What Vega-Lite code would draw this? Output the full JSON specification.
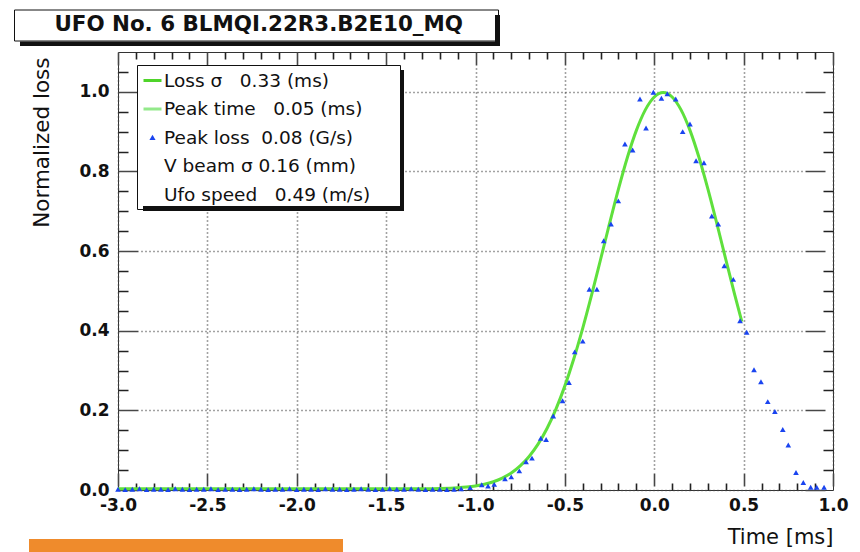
{
  "$schema": "https://vega.github.io/schema/vega-lite/v6.json",
  "width": 715,
  "height": 438,
  "autosize": {"type": "none"},
  "padding": {"left": 118, "top": 52, "right": 27, "bottom": 62},
  "background": "white",
  "config": {
    "view": {"stroke": "#333", "strokeWidth": 1},
    "axis": {
      "labelFont": "DejaVu Sans",
      "labelFontWeight": "bold",
      "labelFontSize": 17,
      "labelColor": "#111",
      "titleFont": "DejaVu Sans",
      "titleFontWeight": "normal",
      "titleColor": "#111",
      "domain": false,
      "ticks": false,
      "labelFlush": false,
      "labelOverlap": false,
      "labelBound": false
    },
    "legend": {"labelFont": "DejaVu Sans", "labelColor": "#111"}
  },
  "datasets": {
    "curve": [
      {"t": -3.0, "fit": 0.003}, {"t": -2.5, "fit": 0.003}, {"t": -2.0, "fit": 0.003},
      {"t": -1.5, "fit": 0.003}, {"t": -1.3, "fit": 0.0033}, {"t": -1.2, "fit": 0.0039},
      {"t": -1.1, "fit": 0.0057}, {"t": -1.05, "fit": 0.0075}, {"t": -1.0, "fit": 0.0103},
      {"t": -0.95, "fit": 0.0145}, {"t": -0.9, "fit": 0.0208}, {"t": -0.85, "fit": 0.030},
      {"t": -0.8, "fit": 0.0428}, {"t": -0.75, "fit": 0.0605}, {"t": -0.7, "fit": 0.0842},
      {"t": -0.65, "fit": 0.1151}, {"t": -0.6, "fit": 0.1544}, {"t": -0.55, "fit": 0.2031},
      {"t": -0.5, "fit": 0.2615}, {"t": -0.45, "fit": 0.3297}, {"t": -0.4, "fit": 0.4067},
      {"t": -0.35, "fit": 0.4907}, {"t": -0.3, "fit": 0.5795}, {"t": -0.25, "fit": 0.6694},
      {"t": -0.2, "fit": 0.7561}, {"t": -0.15, "fit": 0.8356}, {"t": -0.1, "fit": 0.9031},
      {"t": -0.05, "fit": 0.9546}, {"t": 0.0, "fit": 0.987}, {"t": 0.05, "fit": 0.998},
      {"t": 0.1, "fit": 0.987}, {"t": 0.15, "fit": 0.9546}, {"t": 0.2, "fit": 0.9031},
      {"t": 0.25, "fit": 0.8356}, {"t": 0.3, "fit": 0.7561}, {"t": 0.35, "fit": 0.6694},
      {"t": 0.4, "fit": 0.5795}, {"t": 0.45, "fit": 0.4907}, {"t": 0.49, "fit": 0.423}
    ],
    "samples": [
      {"t": -3.00, "loss": 0.002}, {"t": -2.96, "loss": 0.001}, {"t": -2.92, "loss": 0.002},
      {"t": -2.88, "loss": 0.003}, {"t": -2.84, "loss": 0.001}, {"t": -2.80, "loss": 0.002},
      {"t": -2.76, "loss": 0.002}, {"t": -2.72, "loss": 0.001}, {"t": -2.68, "loss": 0.003},
      {"t": -2.64, "loss": 0.002}, {"t": -2.60, "loss": 0.001}, {"t": -2.56, "loss": 0.002},
      {"t": -2.52, "loss": 0.002}, {"t": -2.48, "loss": 0.003}, {"t": -2.44, "loss": 0.001},
      {"t": -2.40, "loss": 0.002}, {"t": -2.36, "loss": 0.002}, {"t": -2.32, "loss": 0.001},
      {"t": -2.28, "loss": 0.002}, {"t": -2.24, "loss": 0.003}, {"t": -2.20, "loss": 0.002},
      {"t": -2.16, "loss": 0.001}, {"t": -2.12, "loss": 0.002}, {"t": -2.08, "loss": 0.002},
      {"t": -2.04, "loss": 0.003}, {"t": -2.00, "loss": 0.001}, {"t": -1.96, "loss": 0.002},
      {"t": -1.92, "loss": 0.002}, {"t": -1.88, "loss": 0.001}, {"t": -1.84, "loss": 0.003},
      {"t": -1.80, "loss": 0.002}, {"t": -1.76, "loss": 0.002}, {"t": -1.72, "loss": 0.001},
      {"t": -1.68, "loss": 0.002}, {"t": -1.64, "loss": 0.003}, {"t": -1.60, "loss": 0.002},
      {"t": -1.56, "loss": 0.001}, {"t": -1.52, "loss": 0.002}, {"t": -1.48, "loss": 0.003},
      {"t": -1.44, "loss": 0.002}, {"t": -1.40, "loss": 0.002}, {"t": -1.36, "loss": 0.003},
      {"t": -1.32, "loss": 0.002}, {"t": -1.28, "loss": 0.001}, {"t": -1.24, "loss": 0.002},
      {"t": -1.20, "loss": 0.002}, {"t": -1.16, "loss": 0.001}, {"t": -1.12, "loss": 0.002},
      {"t": -1.08, "loss": 0.003}, {"t": -1.03, "loss": 0.006}, {"t": -0.965, "loss": 0.013},
      {"t": -0.93, "loss": 0.010}, {"t": -0.895, "loss": 0.014}, {"t": -0.835, "loss": 0.028},
      {"t": -0.80, "loss": 0.033}, {"t": -0.755, "loss": 0.048}, {"t": -0.717, "loss": 0.071},
      {"t": -0.684, "loss": 0.080}, {"t": -0.635, "loss": 0.130}, {"t": -0.605, "loss": 0.127},
      {"t": -0.565, "loss": 0.186}, {"t": -0.513, "loss": 0.224}, {"t": -0.477, "loss": 0.270},
      {"t": -0.445, "loss": 0.347}, {"t": -0.40, "loss": 0.374}, {"t": -0.363, "loss": 0.504},
      {"t": -0.321, "loss": 0.504}, {"t": -0.283, "loss": 0.626}, {"t": -0.242, "loss": 0.668},
      {"t": -0.201, "loss": 0.726}, {"t": -0.164, "loss": 0.869}, {"t": -0.121, "loss": 0.854},
      {"t": -0.080, "loss": 0.982}, {"t": -0.046, "loss": 0.909}, {"t": -0.005, "loss": 0.999},
      {"t": 0.040, "loss": 0.984}, {"t": 0.073, "loss": 0.995}, {"t": 0.120, "loss": 0.982},
      {"t": 0.159, "loss": 0.900}, {"t": 0.200, "loss": 0.919}, {"t": 0.234, "loss": 0.827},
      {"t": 0.278, "loss": 0.822}, {"t": 0.322, "loss": 0.688}, {"t": 0.358, "loss": 0.668},
      {"t": 0.392, "loss": 0.563}, {"t": 0.442, "loss": 0.529}, {"t": 0.480, "loss": 0.425},
      {"t": 0.517, "loss": 0.396}, {"t": 0.558, "loss": 0.302}, {"t": 0.597, "loss": 0.272},
      {"t": 0.635, "loss": 0.222}, {"t": 0.675, "loss": 0.197}, {"t": 0.719, "loss": 0.152},
      {"t": 0.750, "loss": 0.113}, {"t": 0.793, "loss": 0.044}, {"t": 0.834, "loss": 0.019},
      {"t": 0.875, "loss": 0.007}, {"t": 0.909, "loss": 0.007}, {"t": 0.950, "loss": 0.007}
    ],
    "stats": [
      {"entry": "Loss σ\u00a0\u00a0\u00a00.33 (ms)"},
      {"entry": "Peak time\u00a0\u00a0\u00a00.05 (ms)"},
      {"entry": "Peak loss\u00a0\u00a00.08 (G/s)"},
      {"entry": "V beam σ\u00a00.16 (mm)"},
      {"entry": "Ufo speed\u00a0\u00a0\u00a00.49 (m/s)"}
    ],
    "heading": [{"label": "UFO No. 6 BLMQI.22R3.B2E10_MQ"}],
    "decor": [{"part": "shadow"}],
    "band": [{"part": "strip"}]
  },
  "layer": [
    {
      "data": {"name": "curve"},
      "mark": {"type": "line", "color": "#5fe03c", "strokeWidth": 3, "interpolate": "monotone"},
      "encoding": {
        "x": {
          "field": "t", "type": "quantitative",
          "scale": {"domain": [-3, 1], "nice": false, "zero": false},
          "axis": {
            "orient": "bottom", "title": null, "labels": false,
            "values": [-3,-2.9,-2.8,-2.7,-2.6,-2.5,-2.4,-2.3,-2.2,-2.1,-2,-1.9,-1.8,-1.7,-1.6,-1.5,-1.4,-1.3,-1.2,-1.1,-1,-0.9,-0.8,-0.7,-0.6,-0.5,-0.4,-0.3,-0.2,-0.1,0,0.1,0.2,0.3,0.4,0.5,0.6,0.7,0.8,0.9,1],
            "grid": true,
            "gridDash": {"condition": {"test": "abs(round(datum.value*10)%5)==0", "value": [13,3,1,3,1,3,1,3,1,3,1,3,1,3,1,3,1,3,1,3,1,3,1,3,1,3,1,3,1,3,1,3,1,3,1,3,1,3,1,3,1,3,1,3,1,3,1,3,1,3,1,3,1,3,1,3,1,3,1,3,1,3,1,3,1,3,1,3,1,3,1,3,1,3,1,3,1,3,1,3,1,3,1,3,1,3,1,3,1,3,1,3,1,3,1,3,1,3,1,3,1,3,1,3,1,3,1,3,1,3,1,3,1,3,1,3,1,3,1,3,1,3,1,3,1,3,1,3,1,3,1,3,1,3,1,3,1,3,1,3,1,3,1,3,1,3,1,3,1,3,1,3,1,3,1,3,1,3,1,3,1,3,1,3,1,3,1,3,1,3,1,3,1,3,1,3,1,3,1,3,1,3,1,3,1,3,1,3,1,3,1,3,1,3,1,3,1,3,1,3,1,3,1,4,13,100]}, "value": [7, 424, 7, 100]},
            "gridColor": {"condition": {"test": "abs(round(datum.value*10)%5)==0", "value": "#474747"}, "value": "#222"},
            "gridWidth": 1.6
          }
        },
        "y": {
          "field": "fit", "type": "quantitative",
          "scale": {"domain": [0, 1.1], "nice": false, "zero": false},
          "axis": {
            "orient": "left", "title": null, "labels": false,
            "values": [0,0.05,0.1,0.15,0.2,0.25,0.3,0.35,0.4,0.45,0.5,0.55,0.6,0.65,0.7,0.75,0.8,0.85,0.9,0.95,1,1.05],
            "grid": true,
            "gridDash": {"condition": {"test": "abs(round(datum.value*100)%20)==0", "value": [20,3,1,3,1,3,1,3,1,3,1,3,1,3,1,3,1,3,1,3,1,3,1,3,1,3,1,3,1,3,1,3,1,3,1,3,1,3,1,3,1,3,1,3,1,3,1,3,1,3,1,3,1,3,1,3,1,3,1,3,1,3,1,3,1,3,1,3,1,3,1,3,1,3,1,3,1,3,1,3,1,3,1,3,1,3,1,3,1,3,1,3,1,3,1,3,1,3,1,3,1,3,1,3,1,3,1,3,1,3,1,3,1,3,1,3,1,3,1,3,1,3,1,3,1,3,1,3,1,3,1,3,1,3,1,3,1,3,1,3,1,3,1,3,1,3,1,3,1,3,1,3,1,3,1,3,1,3,1,3,1,3,1,3,1,3,1,3,1,3,1,3,1,3,1,3,1,3,1,3,1,3,1,3,1,3,1,3,1,3,1,3,1,3,1,3,1,3,1,3,1,3,1,3,1,3,1,3,1,3,1,3,1,3,1,3,1,3,1,3,1,3,1,3,1,3,1,3,1,3,1,3,1,3,1,3,1,3,1,3,1,3,1,3,1,3,1,3,1,3,1,3,1,3,1,3,1,3,1,3,1,3,1,3,1,3,1,3,1,3,1,3,1,3,1,3,1,3,1,3,1,3,1,3,1,3,1,3,1,3,1,3,1,3,1,3,1,3,1,3,1,3,1,3,1,3,1,3,1,3,1,3,1,3,1,3,1,3,1,3,1,3,1,3,1,3,1,3,1,3,1,3,1,3,20,100]}, "value": [10, 695, 10, 100]},
            "gridColor": {"condition": {"test": "abs(round(datum.value*100)%20)==0", "value": "#474747"}, "value": "#222"},
            "gridWidth": 1.6
          }
        }
      }
    },
    {
      "data": {"name": "samples"},
      "mark": {"type": "point", "opacity": 0},
      "encoding": {
        "x": {
          "field": "t", "type": "quantitative",
          "scale": {"domain": [-3, 1], "nice": false, "zero": false},
          "axis": {
            "orient": "bottom", "grid": false,
            "title": "Time [ms]", "titleAnchor": "end", "titleFontSize": 21, "titlePadding": 13,
            "values": [-3, -2.5, -2, -1.5, -1, -0.5, 0, 0.5, 1],
            "labelExpr": "replace(format(datum.value,'.1f'),'\u2212','-')",
            "labelPadding": 7
          }
        },
        "y": {
          "field": "loss", "type": "quantitative",
          "scale": {"domain": [0, 1.1], "nice": false, "zero": false},
          "axis": {
            "orient": "left", "grid": false,
            "title": "Normalized loss", "titleAnchor": "end", "titleFontSize": 21.5, "titlePadding": 25, "titleY": 5,
            "values": [0, 0.2, 0.4, 0.6, 0.8, 1.0],
            "labelExpr": "format(datum.value,'.1f')",
            "labelPadding": 9
          }
        }
      }
    },
    {
      "data": {"name": "samples"},
      "mark": {"type": "point", "shape": "triangle-up", "filled": true, "size": 32, "color": "#1a44f0", "opacity": 1},
      "encoding": {
        "x": {"field": "t", "type": "quantitative", "scale": {"domain": [-3, 1], "nice": false, "zero": false}, "axis": null},
        "y": {"field": "loss", "type": "quantitative", "scale": {"domain": [0, 1.1], "nice": false, "zero": false}, "axis": null}
      }
    },
    {
      "data": {"name": "stats"},
      "mark": {"type": "point", "opacity": 0},
      "encoding": {
        "fill": {
          "field": "entry", "type": "nominal",
          "scale": {"domain": ["Loss σ\u00a0\u00a0\u00a00.33 (ms)", "Peak time\u00a0\u00a0\u00a00.05 (ms)", "Peak loss\u00a0\u00a00.08 (G/s)", "V beam σ\u00a00.16 (mm)", "Ufo speed\u00a0\u00a0\u00a00.49 (m/s)"], "range": ["transparent", "transparent", "#1a44f0", "transparent", "transparent"]},
          "legend": {"title": "____", "titleOrient": "right", "titleFontSize": 11, "titlePadding": 0, "titleColor": "transparent", "orient": "none", "legendX": 19, "legendY": 13, "padding": 5, "rowPadding": 8.5, "labelFontSize": 18.5, "labelOffset": 1, "labelLimit": 500, "symbolSize": 324, "symbolStrokeWidth": 3, "symbolOpacity": 1, "symbolFillColor": "transparent", "symbolStrokeColor": "transparent", "strokeColor": "#111", "fillColor": "white"}
        },
        "stroke": {
          "field": "entry", "type": "nominal",
          "scale": {"domain": ["Loss σ\u00a0\u00a0\u00a00.33 (ms)", "Peak time\u00a0\u00a0\u00a00.05 (ms)", "Peak loss\u00a0\u00a00.08 (G/s)", "V beam σ\u00a00.16 (mm)", "Ufo speed\u00a0\u00a0\u00a00.49 (m/s)"], "range": ["#4fd42a", "#93e98a", "transparent", "transparent", "transparent"]},
          "legend": {"title": "____", "titleOrient": "right", "titleFontSize": 11, "titlePadding": 0, "titleColor": "transparent", "orient": "none", "legendX": 19, "legendY": 13, "padding": 5, "rowPadding": 8.5, "labelFontSize": 18.5, "labelOffset": 1, "labelLimit": 500, "symbolSize": 324, "symbolStrokeWidth": 3, "symbolOpacity": 1, "symbolFillColor": "transparent", "symbolStrokeColor": "transparent", "strokeColor": "#111", "fillColor": "white"}
        },
        "shape": {
          "field": "entry", "type": "nominal",
          "scale": {"domain": ["Loss σ\u00a0\u00a0\u00a00.33 (ms)", "Peak time\u00a0\u00a0\u00a00.05 (ms)", "Peak loss\u00a0\u00a00.08 (G/s)", "V beam σ\u00a00.16 (mm)", "Ufo speed\u00a0\u00a0\u00a00.49 (m/s)"], "range": ["stroke", "stroke", "M0,-0.3L0.34,0.28L-0.34,0.28Z", "stroke", "stroke"]},
          "legend": {"title": "____", "titleOrient": "right", "titleFontSize": 11, "titlePadding": 0, "titleColor": "transparent", "orient": "none", "legendX": 19, "legendY": 13, "padding": 5, "rowPadding": 8.5, "labelFontSize": 18.5, "labelOffset": 1, "labelLimit": 500, "symbolSize": 324, "symbolStrokeWidth": 3, "symbolOpacity": 1, "symbolFillColor": "transparent", "symbolStrokeColor": "transparent", "strokeColor": "#111", "fillColor": "white"}
        }
      }
    },
    {
      "data": {"name": "heading"},
      "mark": {"type": "point", "opacity": 0},
      "encoding": {
        "strokeDash": {
          "field": "label", "type": "nominal",
          "legend": {"title": "____", "titleOrient": "right", "titleFontSize": 13.5, "titlePadding": 0, "titleColor": "transparent", "orient": "none", "legendX": -104, "legendY": -42.5, "padding": 4.5, "labelFont": "DejaVu Sans", "labelFontWeight": "bold", "labelFontSize": 21.4, "labelOffset": 14.5, "labelLimit": 700, "symbolSize": 0, "symbolOpacity": 0, "strokeColor": "#111", "fillColor": "white"}
        }
      }
    },
    {
      "data": {"name": "decor"},
      "mark": {"type": "point", "filled": true, "color": "#111", "strokeWidth": 0, "opacity": 0},
      "encoding": {
        "size": {
          "field": "part", "type": "nominal",
          "scale": {"range": [4, 4]},
          "legend": {"title": null, "orient": "none", "legendX": 0, "legendY": 0, "padding": 0, "symbolType": "M376,-38H381V-7H-99V-11.5H376Z M281,17H285V158H24V153H281Z", "symbolOpacity": 1, "symbolStrokeWidth": 0, "symbolFillColor": "#111", "labelFontSize": 1, "labelOffset": 0, "labelColor": "transparent"}
        }
      }
    },
    {
      "data": {"name": "band"},
      "mark": {"type": "point", "filled": true, "color": "#ef8b2c", "strokeWidth": 0, "opacity": 0},
      "encoding": {
        "size": {
          "field": "part", "type": "nominal",
          "scale": {"range": [4, 4]},
          "legend": {"title": null, "orient": "none", "legendX": 0, "legendY": 0, "padding": 0, "symbolType": "M-90,486H224V501H-90Z", "symbolOpacity": 1, "symbolStrokeWidth": 0, "symbolFillColor": "#ef8b2c", "labelFontSize": 1, "labelOffset": 0, "labelColor": "transparent"}
        }
      }
    }
  ],
  "resolve": {
    "axis": {"x": "independent", "y": "independent"},
    "scale": {"size": "independent"}
  }
}
